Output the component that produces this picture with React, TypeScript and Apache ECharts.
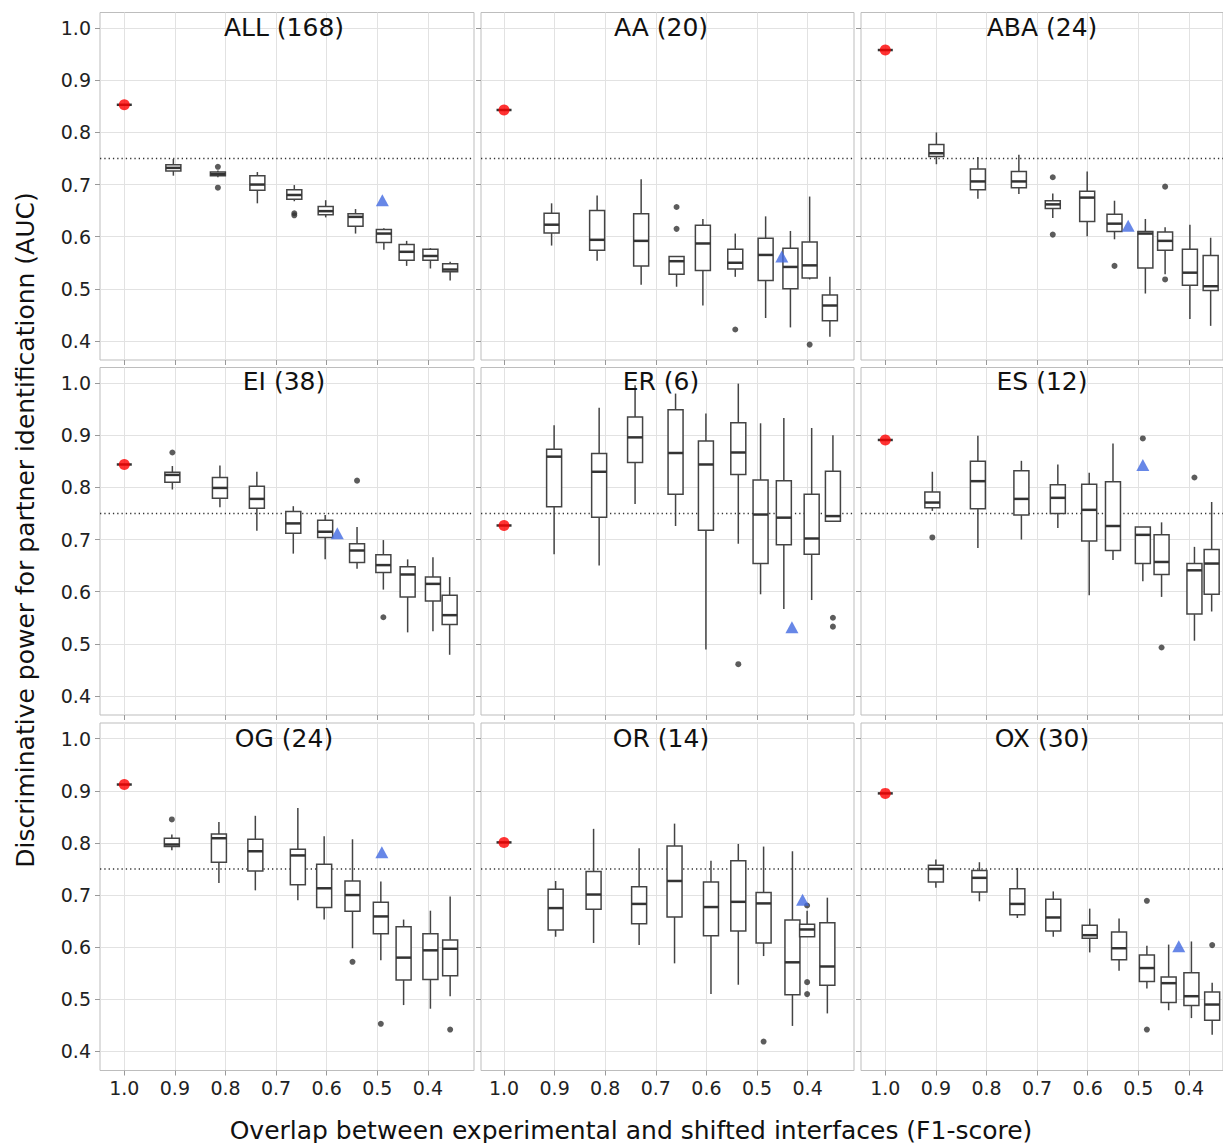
import React, { useEffect, useRef } from "react";
import * as echarts from "echarts";

// Panel titles
const panelTitles = ["ALL (168)", "AA (20)", "ABA (24)", "EI (38)", "ER (6)", "ES (12)", "OG (24)", "OR (14)", "OX (30)"];

// Reference AUC at F1 = 1.0 (red point)
const refAUC = [0.853, 0.843, 0.958, 0.844, 0.727, 0.891, 0.912, 0.801, 0.895];

// Blue triangles [F1, AUC]
const triangles = [
  [0.49, 0.67], [0.451, 0.562], [0.52, 0.621],
  [0.579, 0.712], [0.431, 0.532], [0.491, 0.843],
  [0.491, 0.782], [0.41, 0.691], [0.42, 0.602],
];

// Boxes: [F1, min, q1, median, q3, max]
const boxesALL = [
  [0.903, 0.717, 0.726, 0.732, 0.738, 0.749],
  [0.815, 0.714, 0.717, 0.720, 0.724, 0.727],
  [0.737, 0.664, 0.689, 0.700, 0.717, 0.724],
  [0.664, 0.668, 0.672, 0.680, 0.690, 0.699],
  [0.602, 0.637, 0.642, 0.649, 0.658, 0.670],
  [0.543, 0.606, 0.620, 0.638, 0.644, 0.653],
  [0.487, 0.575, 0.589, 0.606, 0.614, 0.616],
  [0.442, 0.544, 0.555, 0.571, 0.585, 0.592],
  [0.395, 0.539, 0.555, 0.563, 0.576, 0.578],
  [0.356, 0.516, 0.533, 0.537, 0.548, 0.552],
];
const boxesAA = [
  [0.906, 0.583, 0.607, 0.623, 0.645, 0.664],
  [0.816, 0.554, 0.574, 0.594, 0.650, 0.679],
  [0.729, 0.508, 0.544, 0.592, 0.644, 0.710],
  [0.659, 0.504, 0.528, 0.553, 0.562, 0.562],
  [0.607, 0.468, 0.535, 0.587, 0.622, 0.634],
  [0.543, 0.523, 0.538, 0.550, 0.576, 0.606],
  [0.483, 0.444, 0.516, 0.565, 0.597, 0.639],
  [0.434, 0.426, 0.500, 0.542, 0.578, 0.611],
  [0.396, 0.518, 0.521, 0.545, 0.590, 0.677],
  [0.356, 0.408, 0.439, 0.468, 0.488, 0.523],
];
const boxesABA = [
  [0.899, 0.739, 0.754, 0.760, 0.777, 0.800],
  [0.817, 0.673, 0.690, 0.706, 0.730, 0.753],
  [0.736, 0.682, 0.694, 0.706, 0.725, 0.757],
  [0.669, 0.636, 0.654, 0.662, 0.669, 0.683],
  [0.601, 0.601, 0.629, 0.675, 0.687, 0.725],
  [0.547, 0.595, 0.610, 0.625, 0.643, 0.669],
  [0.486, 0.491, 0.540, 0.606, 0.610, 0.634],
  [0.447, 0.528, 0.574, 0.592, 0.609, 0.618],
  [0.398, 0.442, 0.507, 0.531, 0.576, 0.623],
  [0.357, 0.429, 0.497, 0.505, 0.564, 0.598],
];
const boxesEI = [
  [0.905, 0.796, 0.810, 0.824, 0.829, 0.841],
  [0.811, 0.762, 0.779, 0.799, 0.819, 0.842],
  [0.738, 0.717, 0.760, 0.778, 0.802, 0.830],
  [0.666, 0.673, 0.712, 0.731, 0.754, 0.764],
  [0.603, 0.662, 0.704, 0.715, 0.737, 0.747],
  [0.540, 0.644, 0.656, 0.679, 0.692, 0.724],
  [0.488, 0.604, 0.637, 0.651, 0.671, 0.699],
  [0.440, 0.522, 0.590, 0.633, 0.648, 0.662],
  [0.390, 0.524, 0.582, 0.615, 0.628, 0.666],
  [0.357, 0.479, 0.537, 0.555, 0.593, 0.628],
];
const boxesER = [
  [0.901, 0.672, 0.763, 0.859, 0.873, 0.919],
  [0.812, 0.650, 0.743, 0.830, 0.865, 0.953],
  [0.741, 0.768, 0.848, 0.896, 0.935, 0.996],
  [0.661, 0.726, 0.787, 0.866, 0.949, 0.980],
  [0.601, 0.489, 0.718, 0.844, 0.889, 0.942],
  [0.537, 0.692, 0.825, 0.867, 0.924, 0.999],
  [0.493, 0.595, 0.654, 0.748, 0.814, 0.923],
  [0.447, 0.567, 0.690, 0.742, 0.813, 0.933],
  [0.392, 0.584, 0.672, 0.702, 0.787, 0.914],
  [0.350, 0.735, 0.735, 0.745, 0.831, 0.900],
];
const boxesES = [
  [0.907, 0.755, 0.761, 0.771, 0.791, 0.830],
  [0.817, 0.684, 0.759, 0.812, 0.850, 0.899],
  [0.731, 0.700, 0.747, 0.778, 0.832, 0.851],
  [0.659, 0.722, 0.750, 0.780, 0.805, 0.844],
  [0.597, 0.593, 0.697, 0.757, 0.806, 0.828],
  [0.550, 0.661, 0.679, 0.726, 0.811, 0.884],
  [0.491, 0.620, 0.654, 0.709, 0.724, 0.724],
  [0.454, 0.590, 0.633, 0.657, 0.709, 0.733],
  [0.389, 0.506, 0.557, 0.641, 0.654, 0.686],
  [0.355, 0.562, 0.595, 0.654, 0.681, 0.772],
];
const boxesOG = [
  [0.906, 0.786, 0.793, 0.797, 0.809, 0.816],
  [0.813, 0.723, 0.763, 0.809, 0.817, 0.840],
  [0.741, 0.709, 0.746, 0.784, 0.807, 0.852],
  [0.657, 0.690, 0.720, 0.776, 0.788, 0.867],
  [0.605, 0.653, 0.676, 0.713, 0.759, 0.813],
  [0.549, 0.598, 0.669, 0.700, 0.727, 0.807],
  [0.493, 0.575, 0.626, 0.659, 0.686, 0.726],
  [0.448, 0.489, 0.537, 0.580, 0.639, 0.653],
  [0.395, 0.482, 0.538, 0.594, 0.626, 0.670],
  [0.356, 0.506, 0.545, 0.597, 0.614, 0.697],
];
const boxesOR = [
  [0.898, 0.620, 0.633, 0.675, 0.711, 0.727],
  [0.823, 0.608, 0.673, 0.701, 0.745, 0.827],
  [0.733, 0.604, 0.645, 0.683, 0.716, 0.790],
  [0.663, 0.569, 0.658, 0.727, 0.794, 0.837],
  [0.591, 0.510, 0.622, 0.677, 0.725, 0.766],
  [0.537, 0.528, 0.631, 0.687, 0.766, 0.798],
  [0.487, 0.583, 0.608, 0.684, 0.705, 0.793],
  [0.430, 0.449, 0.509, 0.571, 0.652, 0.784],
  [0.401, 0.620, 0.620, 0.634, 0.644, 0.670],
  [0.361, 0.473, 0.527, 0.563, 0.647, 0.695],
];
const boxesOX = [
  [0.900, 0.714, 0.725, 0.750, 0.757, 0.768],
  [0.814, 0.688, 0.706, 0.733, 0.747, 0.763],
  [0.739, 0.656, 0.662, 0.683, 0.712, 0.752],
  [0.668, 0.620, 0.631, 0.657, 0.692, 0.707],
  [0.596, 0.590, 0.617, 0.623, 0.642, 0.674],
  [0.538, 0.555, 0.576, 0.598, 0.629, 0.655],
  [0.483, 0.521, 0.534, 0.560, 0.585, 0.603],
  [0.440, 0.479, 0.494, 0.531, 0.543, 0.605],
  [0.395, 0.464, 0.488, 0.506, 0.551, 0.611],
  [0.354, 0.432, 0.460, 0.490, 0.514, 0.532],
];

// Outliers: [F1, AUC]
const outliersALL = [[0.815, 0.734], [0.815, 0.694], [0.664, 0.645], [0.664, 0.641]];
const outliersAA = [[0.659, 0.657], [0.659, 0.615], [0.543, 0.422], [0.396, 0.393]];
const outliersABA = [[0.669, 0.714], [0.669, 0.604], [0.547, 0.544], [0.447, 0.696], [0.447, 0.518]];
const outliersEI = [[0.905, 0.867], [0.54, 0.813], [0.488, 0.551]];
const outliersER = [[0.537, 0.461], [0.35, 0.55], [0.35, 0.533]];
const outliersES = [[0.907, 0.704], [0.491, 0.894], [0.454, 0.493], [0.389, 0.819]];
const outliersOG = [[0.906, 0.845], [0.549, 0.572], [0.493, 0.453], [0.356, 0.442]];
const outliersOR = [[0.487, 0.419], [0.401, 0.68], [0.401, 0.533], [0.401, 0.51]];
const outliersOX = [[0.483, 0.689], [0.483, 0.442], [0.354, 0.604]];

const allBoxes = [boxesALL, boxesAA, boxesABA, boxesEI, boxesER, boxesES, boxesOG, boxesOR, boxesOX];
const allOutliers = [outliersALL, outliersAA, outliersABA, outliersEI, outliersER, outliersES, outliersOG, outliersOR, outliersOX];

const xTickValues = [1.0, 0.9, 0.8, 0.7, 0.6, 0.5, 0.4];
const yTickValues = [0.4, 0.5, 0.6, 0.7, 0.8, 0.9, 1.0];
const threshold = 0.75;

const xTitle = "Overlap between experimental and shifted interfaces (F1-score)";
const yTitle = "Discriminative power for partner identificationn (AUC)";

const FONT = "DejaVu Sans";

export default function App() {
  const ref = useRef<HTMLDivElement>(null);
  useEffect(() => {
    if (!ref.current) return;
    const chart = echarts.init(ref.current, undefined, { renderer: "svg" });

    const colLefts = [100, 481, 861];
    const colWidths = [374, 373, 362];
    const colXMax = [1.048, 1.0455, 1.048];
    const rowTops = [12.5, 367.5, 723];
    const rowH = 347.5;
    const pxPerUnit = 506;
    const yMin = 0.3635;
    const yMax = 1.03;
    const titleCenters = [284, 661, 1042];
    const titleOffsets = [15, 13.5, 15];

    const grids: any[] = [];
    const xAxes: any[] = [];
    const yAxes: any[] = [];
    const series: any[] = [];
    const graphics: any[] = [];

    const renderBox = (params: any, api: any) => {
      const x = api.value(0);
      const lo = api.coord([x, api.value(1)]);
      const q1 = api.coord([x, api.value(2)]);
      const md = api.coord([x, api.value(3)]);
      const q3 = api.coord([x, api.value(4)]);
      const hi = api.coord([x, api.value(5)]);
      const hw = 7.5;
      const cx = md[0];
      const children: any[] = [];
      if (hi[1] < q3[1]) children.push({ type: "line", shape: { x1: cx, y1: hi[1], x2: cx, y2: q3[1] }, style: { stroke: "#444", lineWidth: 1.5 } });
      if (lo[1] > q1[1]) children.push({ type: "line", shape: { x1: cx, y1: q1[1], x2: cx, y2: lo[1] }, style: { stroke: "#444", lineWidth: 1.5 } });
      if (q1[1] - q3[1] > 0.5) children.push({ type: "rect", shape: { x: cx - hw, y: q3[1], width: 2 * hw, height: q1[1] - q3[1] }, style: { fill: "#fff", stroke: "#444", lineWidth: 1.5 } });
      children.push({ type: "line", shape: { x1: cx - hw, y1: md[1], x2: cx + hw, y2: md[1] }, style: { stroke: "#333", lineWidth: 2.5 } });
      return { type: "group", children };
    };

    for (let i = 0; i < 9; i++) {
      const r = Math.floor(i / 3);
      const c = i % 3;
      const w = colWidths[c];
      const xMax = colXMax[c];
      const xMin = xMax - w / pxPerUnit;
      grids.push({ left: colLefts[c], top: rowTops[r], width: w, height: rowH, show: true, borderColor: "#bdbdbd", borderWidth: 1, backgroundColor: "#fff", containLabel: false });
      xAxes.push({
        type: "value", gridIndex: i, min: xMin, max: xMax, inverse: true, splitNumber: 7,
        axisLine: { show: false },
        axisTick: { show: true, length: 5, lineStyle: { color: "#999" }, customValues: xTickValues },
        axisLabel: {
          show: r === 2, customValues: xTickValues, margin: 8, fontSize: 19, fontFamily: FONT, color: "#222",
          formatter: (v: number) => (Math.abs(v * 10 - Math.round(v * 10)) < 1e-6 ? v.toFixed(1) : ""),
        },
        splitLine: { show: true, lineStyle: { color: "#e2e2e2", width: 1 } },
      });
      yAxes.push({
        type: "value", gridIndex: i, min: yMin, max: yMax, splitNumber: 7,
        axisLine: { show: false },
        axisTick: { show: true, length: 5, lineStyle: { color: "#999" }, customValues: yTickValues },
        axisLabel: {
          show: c === 0, customValues: yTickValues, margin: 9, fontSize: 19, fontFamily: FONT, color: "#222",
          formatter: (v: number) => (Math.abs(v * 10 - Math.round(v * 10)) < 1e-6 ? v.toFixed(1) : ""),
        },
        splitLine: { show: true, lineStyle: { color: "#e2e2e2", width: 1 } },
      });

      // threshold dotted line
      series.push({
        type: "line", xAxisIndex: i, yAxisIndex: i, silent: true, symbol: "none", z: 2,
        data: [[xMax, threshold], [xMin, threshold]],
        lineStyle: { color: "#333", width: 1.3, type: [1.3, 3] },
      });
      // boxes
      series.push({
        type: "custom", xAxisIndex: i, yAxisIndex: i, silent: true, z: 3,
        encode: { x: 0, y: [1, 2, 3, 4, 5] },
        renderItem: renderBox,
        data: allBoxes[i],
      });
      // reference median line at F1 = 1.0
      const v = refAUC[i];
      series.push({
        type: "custom", xAxisIndex: i, yAxisIndex: i, silent: true, z: 3,
        encode: { x: 0, y: [1, 2, 3, 4, 5] },
        renderItem: renderBox,
        data: [[1.0, v, v, v, v, v]],
      });
      // outliers
      series.push({
        type: "scatter", xAxisIndex: i, yAxisIndex: i, silent: true, z: 4,
        symbol: "circle", symbolSize: 6, itemStyle: { color: "#333" },
        data: allOutliers[i],
      });
      // red reference point
      series.push({
        type: "scatter", xAxisIndex: i, yAxisIndex: i, silent: true, z: 5,
        symbol: "circle", symbolSize: 11, itemStyle: { color: "#ff0000" },
        data: [[1.0, v]],
      });
      // blue triangle
      series.push({
        type: "scatter", xAxisIndex: i, yAxisIndex: i, silent: true, z: 5,
        symbol: "triangle", symbolSize: [13, 12], itemStyle: { color: "#4169e1" },
        data: [triangles[i]],
      });

      graphics.push({
        type: "text", x: titleCenters[c], y: rowTops[r] + titleOffsets[r], z: 10,
        style: { text: panelTitles[i], fontSize: 25, fontFamily: FONT, fill: "#111", align: "center", verticalAlign: "middle" },
      });
    }

    graphics.push({
      type: "text", x: 631, y: 1130, z: 10,
      style: { text: xTitle, fontSize: 25, fontFamily: FONT, fill: "#111", align: "center", verticalAlign: "middle" },
    });
    graphics.push({
      type: "text", x: 25, y: 530, rotation: Math.PI / 2, z: 10,
      style: { text: yTitle, fontSize: 25, fontFamily: FONT, fill: "#111", align: "center", verticalAlign: "middle" },
    });

    chart.setOption({
      animation: false,
      backgroundColor: "#fff",
      grid: grids,
      xAxis: xAxes,
      yAxis: yAxes,
      series,
      graphic: graphics,
    });
    return () => chart.dispose();
  }, []);

  return <div ref={ref} style={{ position: "absolute", left: 0, top: 0, width: 1223, height: 1143 }} />;
}
